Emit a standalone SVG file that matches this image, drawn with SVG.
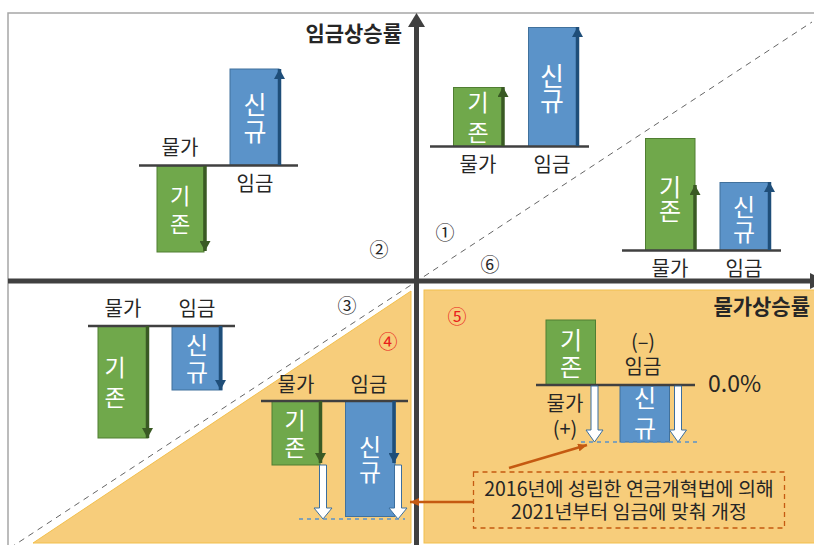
<svg xmlns="http://www.w3.org/2000/svg" width="814" height="545" viewBox="0 0 814 545">
<style>
text{font-family:"Noto Sans CJK KR","Noto Sans",sans-serif;fill:#262626}
.lb{font-size:20px;text-anchor:middle}
.w{fill:#fff;text-anchor:middle}
.t{font-size:21px;font-weight:bold;text-anchor:end}
.n{font-size:19px;text-anchor:middle}
.r{fill:#e8201a}
.g{fill:#70a84b;stroke:#507e32;stroke-width:1}
.b{fill:#5b93c9;stroke:#41719c;stroke-width:1}
.base{stroke:#404040;stroke-width:2.5}
.ag{stroke:#3a5a24;stroke-width:3.5;marker-end:url(#mg)}
.ab{stroke:#1f4e79;stroke-width:3.5;marker-end:url(#mb)}
.ha{fill:#fff;stroke:#3b6e9e;stroke-width:1}
.bd{stroke:#5b93c9;stroke-width:1.5;stroke-dasharray:4 4}
.or{fill:#f7cd7b;stroke:#f2bf4c;stroke-width:1}
</style>
<defs>
<marker id="mg" viewBox="0 0 10 10" refX="10" refY="5" markerWidth="10" markerHeight="11" markerUnits="userSpaceOnUse" orient="auto" preserveAspectRatio="none"><path d="M0,0L10,5L0,10z" fill="#3a5a24"/></marker>
<marker id="mb" viewBox="0 0 10 10" refX="10" refY="5" markerWidth="10" markerHeight="11" markerUnits="userSpaceOnUse" orient="auto" preserveAspectRatio="none"><path d="M0,0L10,5L0,10z" fill="#1f4e79"/></marker>
<marker id="mo" viewBox="0 0 10 10" refX="10" refY="5" markerWidth="9" markerHeight="8" markerUnits="userSpaceOnUse" orient="auto" preserveAspectRatio="none"><path d="M0,0L10,5L0,10z" fill="#c55a11"/></marker>
</defs>
<rect width="814" height="545" fill="#fff"/>
<g id="background">
<rect x="8" y="13" width="830" height="560" fill="none" stroke="#a6a6a6" stroke-width="1.5"/>
<rect class="or" x="424" y="290" width="395" height="253"/>
<polygon class="or" points="33,543 411,291 411,543"/>
<line x1="10" y1="548" x2="812" y2="22" stroke="#666" stroke-width="1" stroke-dasharray="6 5"/>
</g>
<g id="axes">
<line x1="416.5" y1="545" x2="416.5" y2="25" stroke="#404040" stroke-width="5"/>
<polygon points="416.5,13 425,27 408,27" fill="#404040"/>
<line x1="8" y1="281" x2="812" y2="281" stroke="#404040" stroke-width="5"/>
<polygon points="826,281 810,273 810,289" fill="#404040"/>
<text class="t" x="402" y="41">임금상승률</text>
<text class="t" x="810" y="314">물가상승률</text>
</g>
<g id="q2">
<rect class="b" x="230" y="69" width="49" height="96"/>
<rect class="g" x="157" y="166" width="47" height="86"/>
<line class="base" x1="139" y1="165.5" x2="298" y2="165.5"/>
<line class="ag" x1="205" y1="166" x2="205" y2="251"/>
<line class="ab" x1="279.5" y1="165" x2="279.5" y2="69"/>
<text class="w" x="180" y="204" font-size="22">기<tspan x="180" dy="28">존</tspan></text>
<text class="w" x="255" y="114" font-size="25">신<tspan x="255" dy="27">규</tspan></text>
<text class="lb" x="180" y="155">물가</text>
<text class="lb" x="255" y="191">임금</text>
<text class="n" x="379" y="257">②</text>
</g>
<g id="q1a">
<rect class="g" x="453.5" y="87.5" width="49" height="59"/>
<rect class="b" x="528.5" y="27.5" width="49" height="119"/>
<line class="base" x1="430" y1="146.5" x2="589" y2="146.5"/>
<line class="ag" x1="503" y1="146" x2="503" y2="87"/>
<line class="ab" x1="577.5" y1="146" x2="577.5" y2="27"/>
<text class="w" x="478" y="111" font-size="23">기<tspan x="478" dy="30">존</tspan></text>
<text class="w" x="552" y="86" font-size="26">신<tspan x="552" dy="25">규</tspan></text>
<text class="lb" x="478" y="172">물가</text>
<text class="lb" x="552" y="172">임금</text>
</g>
<g id="q1b">
<rect class="g" x="645.5" y="138.5" width="49.5" height="112"/>
<rect class="b" x="720" y="182.5" width="49.5" height="68"/>
<line class="base" x1="622" y1="250.5" x2="781" y2="250.5"/>
<line class="ag" x1="695" y1="250" x2="695" y2="185"/>
<line class="ab" x1="769.5" y1="250" x2="769.5" y2="182"/>
<text class="w" x="670" y="196" font-size="24">기<tspan x="670" dy="24">존</tspan></text>
<text class="w" x="744" y="216" font-size="24">신<tspan x="744" dy="25">규</tspan></text>
<text class="lb" x="670" y="276">물가</text>
<text class="lb" x="744" y="276">임금</text>
<text class="n" x="445" y="240">①</text>
<text class="n" x="490" y="272">⑥</text>
</g>
<g id="q3a">
<rect class="g" x="98" y="326" width="50" height="112"/>
<rect class="b" x="172" y="326" width="50" height="64"/>
<line class="base" x1="88" y1="326" x2="235" y2="326"/>
<line class="ag" x1="147.5" y1="326" x2="147.5" y2="438"/>
<line class="ab" x1="220.5" y1="326" x2="220.5" y2="390"/>
<text class="w" x="115" y="376" font-size="23">기<tspan x="115" dy="30">존</tspan></text>
<text class="w" x="197" y="354" font-size="24">신<tspan x="197" dy="27">규</tspan></text>
<text class="lb" x="123" y="316">물가</text>
<text class="lb" x="197" y="316">임금</text>
<text class="n" x="347" y="313">③</text>
<text class="n r" x="388" y="349">④</text>
</g>
<g id="q3b">
<rect class="g" x="272" y="401" width="48" height="64"/>
<rect class="b" x="345.5" y="401" width="49.5" height="115.5"/>
<line class="base" x1="261" y1="401" x2="408" y2="401"/>
<line class="ag" x1="320.5" y1="401" x2="320.5" y2="463"/>
<line class="ab" x1="394" y1="401" x2="394" y2="463"/>
<path class="ha" d="M319.5,465H326.5V508H332L323,519L314,508H319.5Z"/>
<path class="ha" d="M394.5,465H401.5V508H407L398,519L389,508H394.5Z"/>
<line class="bd" x1="299" y1="519" x2="405" y2="519"/>
<text class="w" x="295" y="429" font-size="23">기<tspan x="295" dy="27">존</tspan></text>
<text class="w" x="370" y="456" font-size="24">신<tspan x="370" dy="25">규</tspan></text>
<text class="lb" x="296" y="392">물가</text>
<text class="lb" x="369" y="392">임금</text>
</g>
<g id="q4">
<rect class="g" x="546" y="320" width="49.5" height="65"/>
<rect class="b" x="620" y="385" width="49.5" height="57"/>
<line class="base" x1="536" y1="385" x2="695" y2="385"/>
<path class="ha" d="M591,386H598V430H603L594.5,442L586,430H591Z"/>
<path class="ha" d="M674.5,386H681.5V430H686.5L678,442L669.5,430H674.5Z"/>
<line class="bd" x1="581" y1="442" x2="697" y2="442"/>
<text class="w" x="571" y="349" font-size="24">기<tspan x="571" dy="27">존</tspan></text>
<text class="w" x="645" y="407" font-size="24">신<tspan x="645" dy="30">규</tspan></text>
<text class="lb" x="643" y="349">(–)<tspan x="643" dy="25">임금</tspan></text>
<text class="lb" x="565" y="411">물가<tspan x="565" dy="25">(+)</tspan></text>
<text x="708" y="392" font-size="23">0.0%</text>
<text class="n r" x="457" y="324">⑤</text>
</g>
<g id="note">
<rect x="473.5" y="472" width="311" height="56" fill="none" stroke="#c55a11" stroke-width="1.3" stroke-dasharray="5 4"/>
<text x="629" y="496" font-size="19.5" text-anchor="middle">2016년에 성립한 연금개혁법에 의해<tspan x="629" dy="23">2021년부터 임금에 맞춰 개정</tspan></text>
</g>
<g id="connectors">
<line x1="509" y1="468" x2="587" y2="445" stroke="#c55a11" stroke-width="2.5" marker-end="url(#mo)"/>
<line x1="473" y1="502" x2="410" y2="502" stroke="#c55a11" stroke-width="2.5" marker-end="url(#mo)"/>
</g>
</svg>
